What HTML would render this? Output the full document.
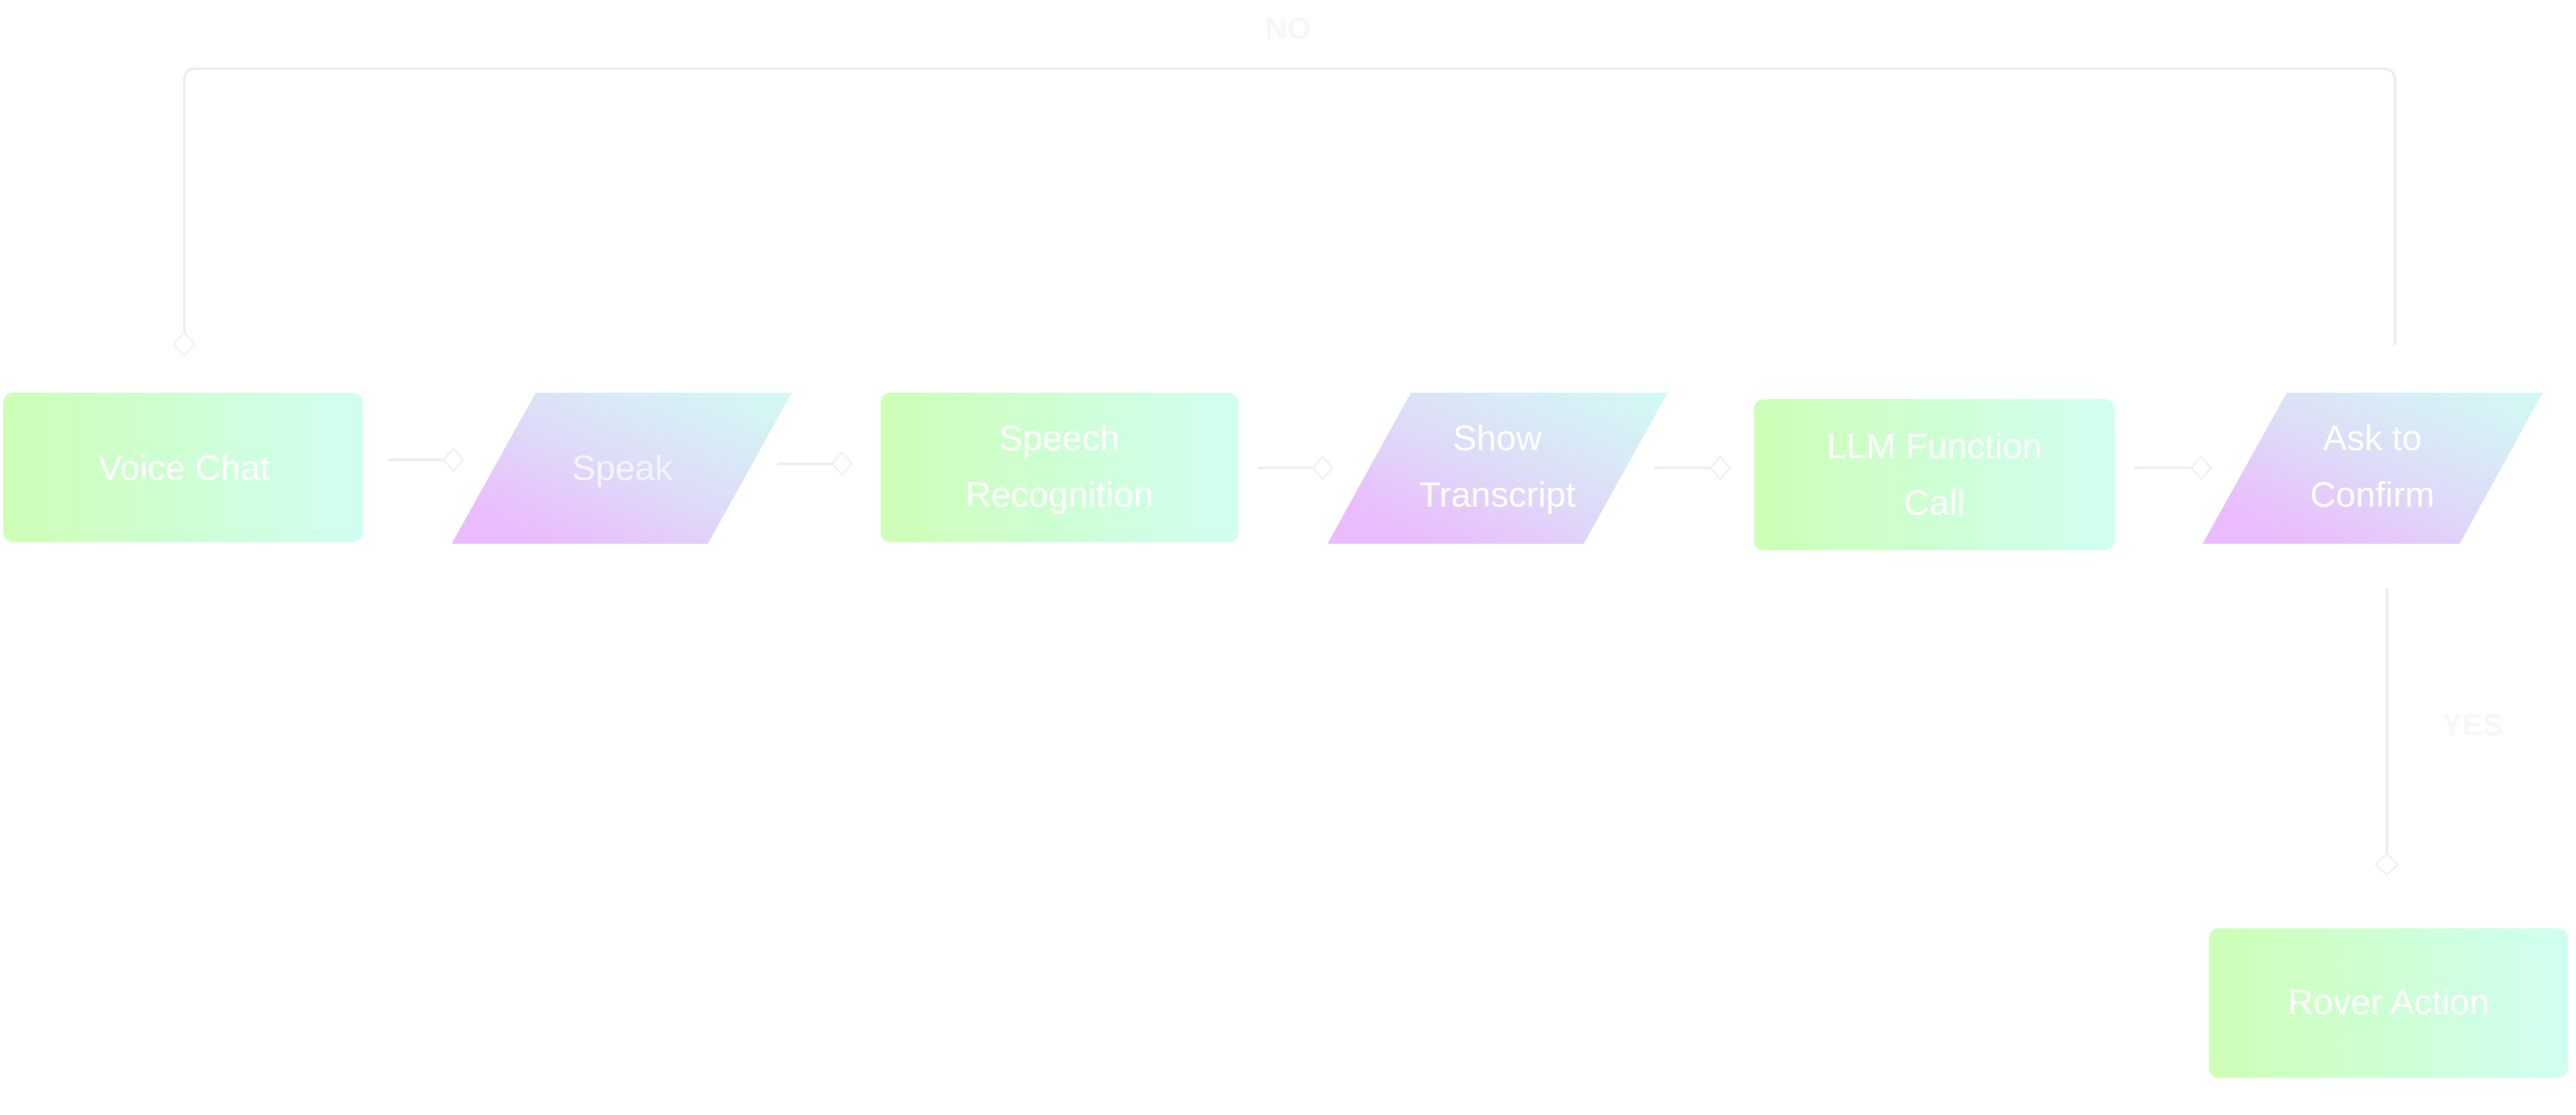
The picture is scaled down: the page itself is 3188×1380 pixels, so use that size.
<!DOCTYPE html>
<html><head><meta charset="utf-8"><style>
html,body{margin:0;padding:0;background:#fff;}
body{width:3188px;height:1380px;overflow:hidden;position:relative;font-family:"Liberation Sans",sans-serif;}
svg{position:absolute;left:0;top:0;}
</style></head><body>
<svg width="3188" height="1380" viewBox="0 0 3188 1380" xmlns="http://www.w3.org/2000/svg">
<defs>
<linearGradient id="g" x1="0" y1="0" x2="1" y2="0">
<stop offset="0" stop-color="#cdffb6"/><stop offset="1" stop-color="#d0fff2"/>
</linearGradient>
<linearGradient id="p" x1="0" y1="1" x2="1" y2="0">
<stop offset="0.15" stop-color="#eabcfd"/><stop offset="0.55" stop-color="#dcdff7"/><stop offset="1" stop-color="#d2fbf4"/>
</linearGradient>
</defs>
<g fill="none" stroke="#ebebf3" stroke-width="3">
<path d="M228 427 V100 Q228 85 243 85 H2949 Q2964 85 2964 100 V427"/>
<path d="M480 569 H549"/>
<path d="M962 574 H1030"/>
<path d="M1556 579 H1625"/>
<path d="M2048 579 H2117"/>
<path d="M2642 579 H2712"/>
<path d="M2954 728 V1057"/>
</g>
<g fill="#fff" stroke="#eeeef5" stroke-width="2">
<path d="M228 412 l13 14 l-13 14 l-13 -14z"/>
<path d="M549 569 l12 -14 l12 14 l-12 14z"/>
<path d="M1030 574 l12 -14 l12 14 l-12 14z"/>
<path d="M1625 579 l12 -14 l12 14 l-12 14z"/>
<path d="M2117 579 l12 -14 l12 14 l-12 14z"/>
<path d="M2712 579 l12 -14 l12 14 l-12 14z"/>
<path d="M2954 1057 l14 13 l-14 13 l-14 -13z"/>
</g>
<rect x="4" y="486" width="445" height="185" rx="12" fill="url(#g)"/>
<rect x="1090" y="486" width="443" height="185" rx="12" fill="url(#g)"/>
<rect x="2171" y="494" width="446" height="187" rx="12" fill="url(#g)"/>
<rect x="2734" y="1149" width="444" height="185" rx="12" fill="url(#g)"/>
<polygon points="663,486 980,486 876,673 559,673" fill="url(#p)"/>
<polygon points="1746,486 2064,486 1960,673 1643,673" fill="url(#p)"/>
<polygon points="2830,486 3147,486 3044,673 2726,673" fill="url(#p)"/>
<g fill="#fff" font-size="44" text-anchor="middle" font-family="Liberation Sans, sans-serif">
<text x="228" y="594">Voice Chat</text>
<text x="770" y="594" fill="#f4f4fa">Speak</text>
<text x="1311" y="557">Speech</text>
<text x="1311" y="627">Recognition</text>
<text x="1853" y="557">Show</text>
<text x="1853" y="627">Transcript</text>
<text x="2394" y="567">LLM Function</text>
<text x="2394" y="637">Call</text>
<text x="2936" y="557">Ask to</text>
<text x="2936" y="627">Confirm</text>
<text x="2956" y="1255">Rover Action</text>
<text x="1594" y="48" font-size="38" font-weight="bold" fill="#f6f6fb">NO</text>
<text x="3060" y="910" font-size="38" font-weight="bold" fill="#f6f6fb">YES</text>
</g>
</svg>
</body></html>
